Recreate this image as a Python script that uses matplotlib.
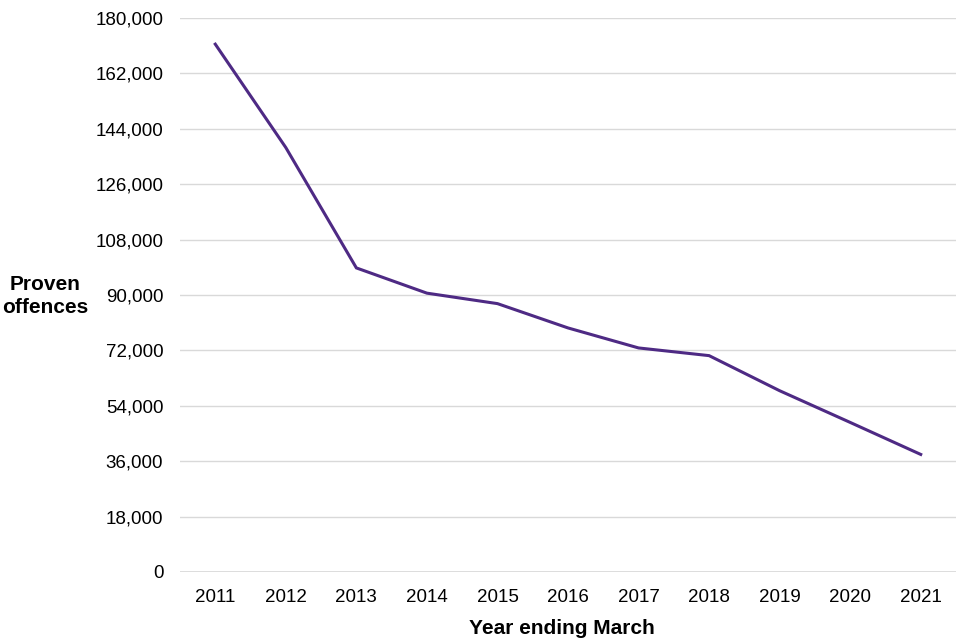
import matplotlib
matplotlib.use("Agg")
import matplotlib.pyplot as plt
from matplotlib.ticker import FuncFormatter

plt.rcParams['font.family'] = ['Liberation Sans', 'DejaVu Sans']

years = ["2011", "2012", "2013", "2014", "2015", "2016", "2017", "2018", "2019", "2020", "2021"]
offences = [171500, 137900, 98800, 90600, 87200, 79300, 72800, 70300, 58900, 48600, 38200]
y_ticks = [0, 18000, 36000, 54000, 72000, 90000, 108000, 126000, 144000, 162000, 180000]

fig = plt.figure(figsize=(9.6, 6.4), dpi=100)
ax = fig.add_axes([180/960, 1-572/640, (956-180)/960, (572-18)/640])

x = list(range(len(years)))
ax.plot(x, offences, color='#4E2A84', linewidth=2.2, solid_joinstyle='miter')

ax.set_xlim(-0.5, len(years) - 0.5)
ax.set_ylim(0, 180000)
ax.set_xticks(x)
ax.set_xticklabels(years)
ax.set_yticks(y_ticks)
ax.yaxis.set_major_formatter(FuncFormatter(lambda v, p: f"{int(v):,}"))
ax.tick_params(axis='both', length=0, labelsize=13.5, colors='black')
ax.tick_params(axis='y', pad=12)
ax.tick_params(axis='x', pad=12)

ax.grid(axis='y', color='#D9D9D9', linewidth=1)
ax.set_axisbelow(True)
for s in ax.spines.values():
    s.set_visible(False)
ax.axhline(0, color='#D9D9D9', linewidth=1.2, zorder=0)

ax.set_xlabel("Year ending March", fontsize=15, fontweight='bold', labelpad=6)
ax.xaxis.set_label_coords((562-180)/(956-180), -0.085)
fig.text(45/960, 1-296/640, "Proven\noffences", fontsize=15, fontweight='bold',
         ha='center', va='center', linespacing=1.3)

fig.savefig("out.png", dpi=100, facecolor='white')
